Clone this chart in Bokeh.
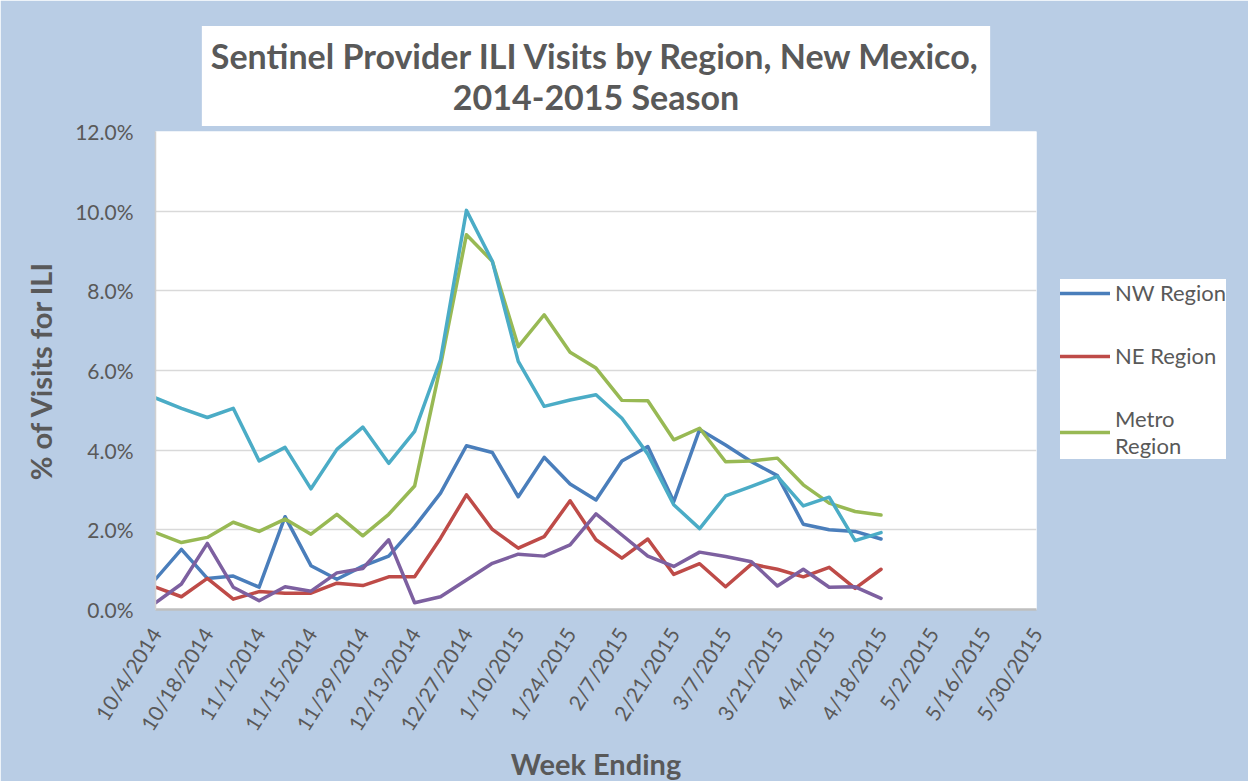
import math
from bokeh.plotting import figure
from bokeh.models import (Range1d, FixedTicker, PrintfTickFormatter, Legend, LegendItem, Title)
from bokeh.embed import file_html
from bokeh.resources import INLINE

# ---------------- data ----------------
tick_labels = ["10/4/2014", "10/18/2014", "11/1/2014", "11/15/2014", "11/29/2014",
               "12/13/2014", "12/27/2014", "1/10/2015", "1/24/2015", "2/7/2015",
               "2/21/2015", "3/7/2015", "3/21/2015", "4/4/2015", "4/18/2015",
               "5/2/2015", "5/16/2015", "5/30/2015"]
n_weeks = 35          # 10/4/2014 .. 5/30/2015, weekly
weeks = list(range(29))  # data available through 4/18/2015

nw_region = [0.76, 1.51, 0.78, 0.84, 0.56, 2.33, 1.10, 0.76, 1.09, 1.34,
             2.08, 2.92, 4.11, 3.94, 2.83, 3.82, 3.15, 2.75, 3.73, 4.09,
             2.71, 4.52, 4.13, 3.71, 3.36, 2.14, 2.00, 1.96, 1.77]
ne_region = [0.56, 0.32, 0.78, 0.26, 0.45, 0.41, 0.41, 0.66, 0.60, 0.82,
             0.82, 1.79, 2.88, 2.01, 1.54, 1.83, 2.73, 1.75, 1.29, 1.77,
             0.88, 1.15, 0.57, 1.14, 1.01, 0.82, 1.06, 0.53, 1.01]
metro_region = [1.93, 1.68, 1.81, 2.19, 1.96, 2.27, 1.89, 2.39, 1.85, 2.39,
                3.10, 6.12, 9.41, 8.74, 6.60, 7.40, 6.46, 6.06, 5.25, 5.24,
                4.26, 4.55, 3.71, 3.73, 3.80, 3.13, 2.67, 2.46, 2.37]
sw_region = [5.31, 5.05, 4.82, 5.05, 3.73, 4.07, 3.03, 4.02, 4.58, 3.67,
             4.47, 6.27, 10.02, 8.74, 6.23, 5.10, 5.26, 5.39, 4.80, 3.90,
             2.63, 2.03, 2.85, 3.09, 3.34, 2.60, 2.82, 1.73, 1.93]
se_region = [0.17, 0.64, 1.66, 0.56, 0.22, 0.57, 0.46, 0.92, 1.03, 1.75,
             0.17, 0.32, 0.74, 1.16, 1.39, 1.34, 1.62, 2.40, 1.87, 1.34,
             1.08, 1.44, 1.33, 1.20, 0.59, 1.01, 0.56, 0.57, 0.28]

y_ticks = [0, 2, 4, 6, 8, 10, 12]

# ---------------- styles ----------------
BG = "#B9CDE5"
TXT = "#595959"
FONT = "Lato"

p = figure(frame_width=881, frame_height=478, output_backend="svg", toolbar_location=None,
           x_range=Range1d(0, n_weeks - 1), y_range=Range1d(0, 12),
           min_border_left=155, min_border_right=204, min_border_top=131,
           min_border_bottom=164)
p.border_fill_color = BG
p.background_fill_color = "white"
p.outline_line_color = None

p.xgrid.grid_line_color = None
p.ygrid.grid_line_color = "#D9D9D9"
p.ygrid.grid_line_width = 1.5

# axes
p.yaxis.ticker = FixedTicker(ticks=y_ticks)
p.yaxis.formatter = PrintfTickFormatter(format="%.1f%%")
p.xaxis.ticker = FixedTicker(ticks=list(range(0, n_weeks, 2)))
p.xaxis.major_label_overrides = {i * 2: lab for i, lab in enumerate(tick_labels)}
p.xaxis.major_label_orientation = math.radians(58)

for ax in (p.xaxis[0], p.yaxis[0]):
    ax.major_tick_line_color = None
    ax.minor_tick_line_color = None
    ax.major_tick_out = 0
    ax.major_tick_in = 0
    ax.major_label_text_font = FONT
    ax.major_label_text_font_size = "21px"
    ax.major_label_text_color = TXT
    ax.axis_label_text_font = FONT
    ax.axis_label_text_font_style = "bold"
    ax.axis_label_text_font_size = "29px"
    ax.axis_label_text_color = TXT

p.xaxis.axis_line_color = "#BFBFBF"
p.xaxis.axis_line_width = 2.5
p.yaxis.axis_line_color = "#D0D0D0"
p.yaxis.axis_line_width = 1.5
p.yaxis.major_label_standoff = 22
p.xaxis.major_label_standoff = 20
p.xaxis.axis_label = "Week Ending"
p.yaxis.axis_label = "% of Visits for ILI"
p.xaxis.axis_label_standoff = 2
p.yaxis.axis_label_standoff = 14

# lines
series = [
    ("NW Region", nw_region, "#4A7EBB"),
    ("NE Region", ne_region, "#BE4B48"),
    ("Metro\nRegion", metro_region, "#98B954"),
    (None, sw_region, "#4BACC6"),
    (None, se_region, "#7D60A0"),
]
items = []
for name, vals, col in series:
    r = p.line(weeks, vals, line_color=col, line_width=3.5, line_join="round", line_cap="round")
    if name:
        items.append(LegendItem(label=name, renderers=[r]))

legend = Legend(items=items, location=(24, 150), orientation="vertical",
                background_fill_color="white", background_fill_alpha=1.0,
                border_line_color=None, label_text_font=FONT,
                label_text_font_size="22px", label_text_color=TXT,
                glyph_width=50, glyph_height=22, label_standoff=5,
                spacing=36, padding=12, margin=12)
p.add_layout(legend, "right")

title = Title(text="Sentinel Provider ILI Visits by Region, New Mexico,\n2014-2015 Season",
              align="center", text_align="center", offset=5, standoff=11,
              text_font=FONT, text_font_style="bold", text_font_size="34px",
              text_color=TXT, background_fill_color="white", padding=9)
p.add_layout(title, "above")

open("out.html", "w").write(file_html(p, INLINE))
